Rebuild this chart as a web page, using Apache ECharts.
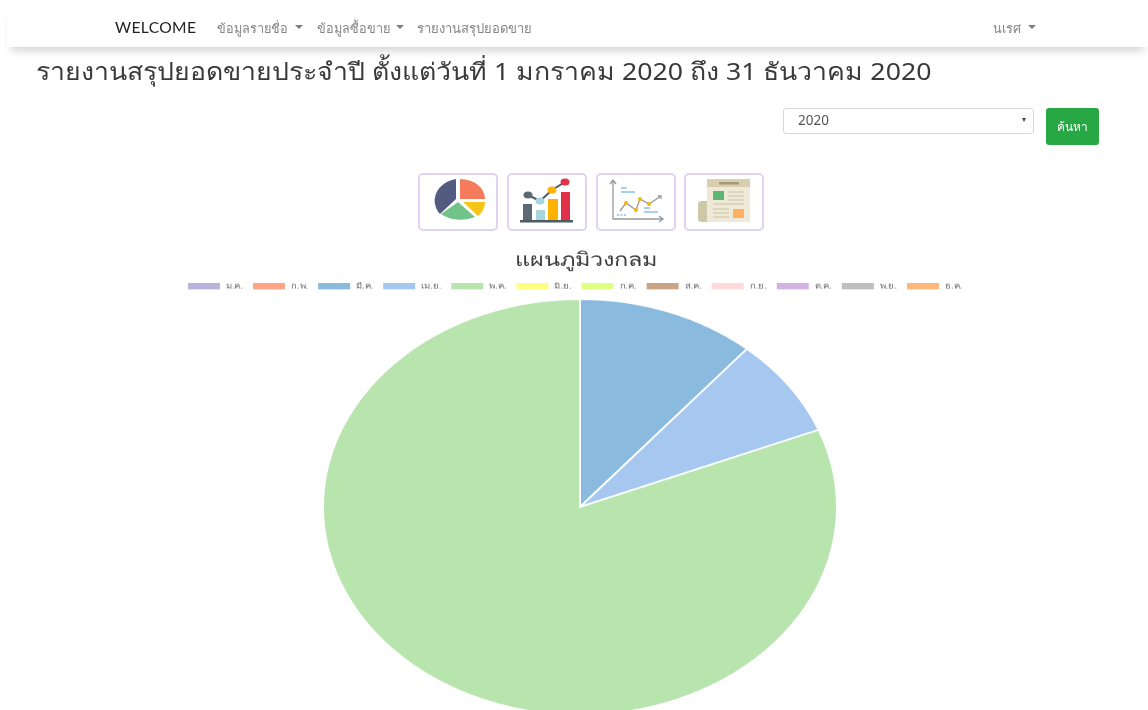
<!DOCTYPE html>
<html>
<head>
<meta charset="utf-8">
<title>รายงานสรุปยอดขาย</title>
<script src="https://cdn.jsdelivr.net/npm/echarts@6/dist/echarts.min.js"></script>
<style>
    html, body { margin: 0; padding: 0; background: #fff; width: 1148px; height: 710px; overflow: hidden; }
    body { font-family: "Noto Sans", "Open Sans", sans-serif; position: relative; }
    #page { position: absolute; left: 0; top: 0; width: 1148px; height: 240px; filter: blur(.4px); }
    .abs { position: absolute; white-space: nowrap; }
    .nav { left: 7px; top: 0; width: 1141px; height: 47px; background: #fff; box-shadow: 0 8px 8px -4px rgba(0,0,0,.17); }
    .link { color: #868686; font-size: 12.7px; top: 18px; }
    .caret { width: 0; height: 0; border-left: 4px solid transparent; border-right: 4px solid transparent; border-top: 4px solid #7c7c7c; top: 25px; }
    .select { left: 783px; top: 108px; width: 249px; height: 24px; border: 1px solid #d5d8dc; border-radius: 3px; }
    .btn { left: 1046px; top: 108px; width: 53px; height: 37px; background: #28a745; border-radius: 3px; color: #fff; font-size: 12px; line-height: 37px; text-align: center; }
    .icon { top: 173px; width: 76px; height: 54px; border: 2px solid #dfd3f1; border-radius: 5px; }
    .icon svg { position: absolute; left: -2px; top: -2px; }
    #chart { position: absolute; left: 0; top: 240px; width: 1148px; height: 650px; transform: scaleY(0.809); transform-origin: top left; }
</style>
</head>
<body>
<div id="page">
<div class="abs nav"></div>
<div class="abs" style="left:115px;top:18px;font-size:15.6px;color:#222;font-family:Lato,sans-serif;letter-spacing:.35px">WELCOME</div>
<div class="abs link" style="left:217px">ข้อมูลรายชื่อ</div>
<div class="abs caret" style="left:295px"></div>
<div class="abs link" style="left:317px">ข้อมูลซื้อขาย</div>
<div class="abs caret" style="left:396px"></div>
<div class="abs link" style="left:417px;font-size:13px">รายงานสรุปยอดขาย</div>
<div class="abs link" style="left:993px">นเรศ</div>
<div class="abs caret" style="left:1028px"></div>
<div class="abs" style="left:36px;top:52px;font-size:26.7px;color:#3a3a3a;transform:scaleY(.9);transform-origin:top left">รายงานสรุปยอดขายประจำปี ตั้งแต่วันที่ 1 มกราคม 2020 ถึง 31 ธันวาคม 2020</div>
<div class="abs select"></div>
<div class="abs" style="left:798px;top:111px;font-size:13.5px;color:#555">2020</div>
<div class="abs" style="left:1022px;top:118px;width:0;height:0;border-left:2.5px solid transparent;border-right:2.5px solid transparent;border-top:4px solid #444"></div>
<div class="abs btn">ค้นหา</div>

<div class="abs icon" style="left:418px"><svg width="80" height="58">
    <path d="M42 6A25 20 0 0 1 67 26L42 26Z" fill="#f47c5c"/>
    <path d="M45 29L67 29A25 20 0 0 1 60 43Z" fill="#f5c518"/>
    <path d="M40 29L57 44A27 18 0 0 1 23 41Z" fill="#72c38a"/>
    <path d="M38 6A26 22 0 0 0 22 41L38 26Z" fill="#535c80"/>
</svg></div>
<div class="abs icon" style="left:507px"><svg width="80" height="58">
    <rect x="16" y="31" width="9" height="17" fill="#5c6b73"/>
    <rect x="29" y="37" width="9" height="11" fill="#a8d5de"/>
    <rect x="41" y="26" width="10" height="22" fill="#ffb300"/>
    <rect x="54" y="19" width="9" height="29" fill="#e0304a"/>
    <rect x="13" y="47" width="53" height="2.5" fill="#4d5b63"/>
    <path d="M21 22L33 28L45 17L58 9" stroke="#4d5b63" stroke-width="2" fill="none"/>
    <ellipse cx="21" cy="22" rx="4.5" ry="3.5" fill="#5c6b73"/>
    <ellipse cx="33" cy="28" rx="4.5" ry="3.5" fill="#a8d5de"/>
    <ellipse cx="45" cy="17" rx="4.5" ry="3.5" fill="#ffb300"/>
    <ellipse cx="58" cy="9" rx="4.5" ry="3.5" fill="#e0304a"/>
</svg></div>
<div class="abs icon" style="left:596px"><svg width="80" height="58">
    <path d="M17 8L17 46L66 46M14 11L17 7L20 11M63 43L67 46L63 49" stroke="#999" stroke-width="1.3" fill="none"/>
    <path d="M24 38L30 30L40 37L44 26L53 31L65 23M62 23L65 23L65 26" stroke="#999" stroke-width="1.3" fill="none"/>
    <circle cx="30" cy="30" r="2" fill="#f5b800"/><circle cx="40" cy="37" r="2" fill="#f5b800"/>
    <circle cx="44" cy="26" r="2" fill="#f5b800"/><circle cx="53" cy="31" r="2" fill="#f5b800"/>
    <path d="M25 15L31 15M25 19L39 19M48 35L54 35M48 39L62 39" stroke="#4ea3d9" stroke-width="1.2"/>
    <path d="M21 42L30 42" stroke="#4ea3d9" stroke-width="1.2" stroke-dasharray="2 1.5"/>
</svg></div>
<div class="abs icon" style="left:684px"><svg width="80" height="58">
    <path d="M14 31Q14 28 18 28L23 28L23 49L18 49Q14 49 14 46Z" fill="#cfc8a8"/>
    <rect x="23" y="6" width="43" height="43" rx="1" fill="#efe9d8"/>
    <rect x="23" y="6" width="43" height="8" fill="#d9cfb0"/>
    <rect x="35" y="9" width="20" height="2.5" fill="#a39a78"/>
    <rect x="29" y="18" width="11" height="9" fill="#5cb870"/>
    <rect x="49" y="36" width="11" height="9" fill="#ffb060"/>
    <path d="M44 19L60 19M44 23L60 23M44 27L60 27M29 31L60 31M29 36L45 36M29 40L45 40M29 44L45 44" stroke="#c9c2a6" stroke-width="1"/>
</svg></div>
</div>

<div id="chart"></div>

<script>
// ค่าประมาณจากภาพ เดือนที่ไม่มียอดขายเป็น 0
const months = ['ม.ค.', 'ก.พ.', 'มี.ค.', 'เม.ย.', 'พ.ค.', 'มิ.ย.', 'ก.ค.', 'ส.ค.', 'ก.ย.', 'ต.ค.', 'พ.ย.', 'ธ.ค.']
const sales = [0, 0, 4500, 3080, 32420, 0, 0, 0, 0, 0, 0, 0]
const colors = ['#b8b3dc', '#ffa585', '#8abbdf', '#a6c8f0', '#b8e4ae', '#ffff80',
    '#dfff80', '#c9a585', '#ffdada', '#d2b3e3', '#bfbfbf', '#ffb87a']

const chart = echarts.init(document.getElementById('chart'), null, { renderer: 'canvas' })
chart.setOption({
    animation: false,
    color: colors,
    title: {
        text: 'แผนภูมิวงกลม',
        left: 515,
        top: 13,
        padding: 0,
        textStyle: { fontSize: 23.5, fontWeight: 'normal', color: '#3d3d3d', fontFamily: 'Noto Sans' }
    },
    legend: {
        data: months,
        top: 46,
        left: 'center',
        itemWidth: 34,
        itemHeight: 10,
        itemGap: 8,
        icon: 'rect',
        selectedMode: false,
        textStyle: { fontSize: 9.5, color: '#666', fontFamily: 'Noto Sans' }
    },
    series: [{
        type: 'pie',
        center: [580, 330],
        radius: [0, 257],
        startAngle: 90,
        label: { show: false },
        labelLine: { show: false },
        itemStyle: { borderColor: '#fff', borderWidth: 2 },
        data: months.map((m, i) => ({ name: m, value: sales[i] }))
    }]
})
</script>
</body>
</html>
